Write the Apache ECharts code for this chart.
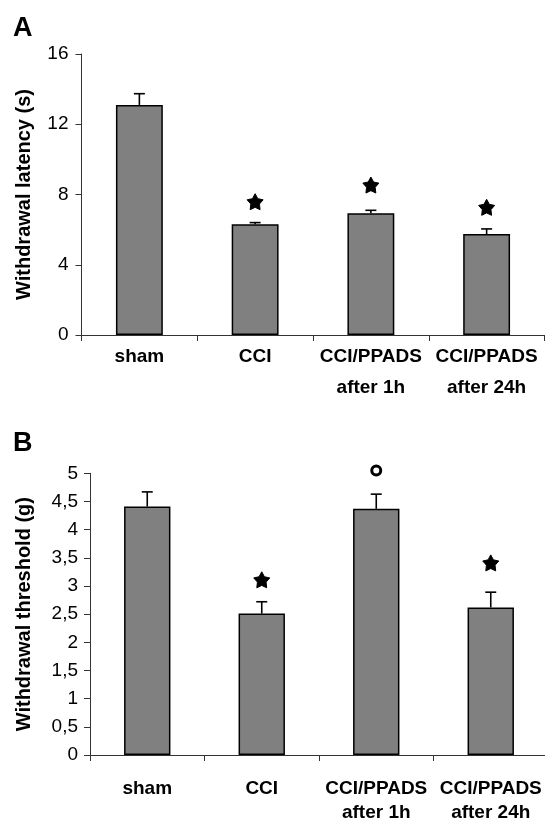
<!DOCTYPE html>
<html>
<head>
<meta charset="utf-8">
<script src="https://cdn.jsdelivr.net/npm/echarts@6/dist/echarts.min.js"></script>
<style>
html,body{margin:0;padding:0;background:#fff;}
#chart{width:545px;height:818px;}
</style>
</head>
<body>
<div id="chart"></div>
<script>
// ---- data ----
var categories = ['sham', 'CCI', 'CCI/PPADS\nafter 1h', 'CCI/PPADS\nafter 24h'];

// Panel A: withdrawal latency (s)
var latencyMean = [13.1, 6.3, 6.93, 5.75];
var latencyErr  = [0.64, 0.1, 0.17, 0.29];
var latencyMarks = [null, '*', '*', '*'];
var latencyMarkVal = [null, 7.59, 8.54, 7.27];
var latencyTicks = [0, 4, 8, 12, 16];

// Panel B: withdrawal threshold (g)
var thresholdMean = [4.41, 2.51, 4.37, 2.62];
var thresholdErr  = [0.26, 0.21, 0.26, 0.27];
var thresholdMarks = [null, '*', 'o', '*'];
var thresholdMarkVal = [null, 3.11, 5.05, 3.41];
var thresholdTicks = ['0', '0,5', '1', '1,5', '2', '2,5', '3', '3,5', '4', '4,5', '5'];

// ---- helpers ----
var FONT = "'Liberation Sans', Arial, Helvetica, sans-serif";

function starPath() {
  var pts = [];
  for (var i = 0; i < 10; i++) {
    var a = (-90 + 36 * i) * Math.PI / 180;
    var r = (i % 2 === 0) ? 50 : 27;
    pts.push((50 + r * Math.cos(a)).toFixed(2) + ' ' + (50 + r * Math.sin(a)).toFixed(2));
  }
  return 'path://M' + pts.join(' L') + ' Z';
}
var STAR = starPath();

function errData(mean, err) {
  return mean.map(function (m, i) { return [i, m, m + err[i]]; });
}
function markData(marks, vals) {
  var out = [];
  marks.forEach(function (m, i) {
    if (!m) return;
    if (m === '*') {
      out.push({ value: [i, vals[i]], symbol: STAR, symbolSize: 16,
                 itemStyle: { color: '#000', borderColor: '#000', borderWidth: 1, opacity: 1 } });
    } else {
      out.push({ value: [i, vals[i]], symbol: 'circle', symbolSize: 9,
                 itemStyle: { color: '#fff', borderColor: '#000', borderWidth: 3, opacity: 1 } });
    }
  });
  return out;
}
function renderErr(params, api) {
  var x = api.value(0);
  var p0 = api.coord([x, api.value(1)]);
  var p1 = api.coord([x, api.value(2)]);
  var half = 5.5;
  return {
    type: 'group',
    children: [
      { type: 'line', shape: { x1: p0[0], y1: p0[1], x2: p1[0], y2: p1[1] },
        style: { stroke: '#000', lineWidth: 1.6 } },
      { type: 'line', shape: { x1: p1[0] - half, y1: p1[1], x2: p1[0] + half, y2: p1[1] },
        style: { stroke: '#000', lineWidth: 1.6 } }
    ]
  };
}

function xAxisFor(grid, lineHeight, margin) {
  return {
    gridIndex: grid,
    type: 'category',
    data: categories,
    boundaryGap: true,
    axisLine: { lineStyle: { color: '#333', width: 1 } },
    axisTick: { show: true, alignWithLabel: false, length: 6, lineStyle: { color: '#333' } },
    axisLabel: { color: '#000', fontFamily: FONT, fontWeight: 'bold', fontSize: 19,
                 lineHeight: lineHeight, margin: margin, interval: 0, hideOverlap: false }
  };
}

var option = {
  backgroundColor: '#fff',
  animation: false,
  graphic: [
    { type: 'text', left: 13, top: 15, style: { text: 'A', font: 'bold 27px ' + FONT, fill: '#000' } },
    { type: 'text', left: 13, top: 430, style: { text: 'B', font: 'bold 27px ' + FONT, fill: '#000' } }
  ],
  grid: [
    { left: 81.5, top: 54, width: 463, height: 281, containLabel: false, outerBoundsMode: 'none' },
    { left: 90, top: 473.3, width: 458, height: 281.7, containLabel: false, outerBoundsMode: 'none' }
  ],
  xAxis: [ xAxisFor(0, 31, 6.5), xAxisFor(1, 24, 22) ],
  yAxis: [
    {
      gridIndex: 0, type: 'value', min: 0, max: 16, interval: 4,
      name: 'Withdrawal latency (s)', nameLocation: 'middle', nameGap: 47,
      nameTextStyle: { color: '#000', fontFamily: FONT, fontWeight: 'bold', fontSize: 20 },
      axisLine: { show: true, lineStyle: { color: '#333', width: 1 } },
      axisTick: { show: true, length: 6, lineStyle: { color: '#333' } },
      splitLine: { show: false },
      axisLabel: { color: '#000', fontFamily: FONT, fontSize: 19, margin: 13,
                   formatter: function (v) { return latencyTicks.indexOf(v) >= 0 ? String(v) : ''; } }
    },
    {
      gridIndex: 1, type: 'value', min: 0, max: 5, interval: 0.5,
      name: 'Withdrawal threshold (g)', nameLocation: 'middle', nameGap: 56,
      nameTextStyle: { color: '#000', fontFamily: FONT, fontWeight: 'bold', fontSize: 20 },
      axisLine: { show: true, lineStyle: { color: '#333', width: 1 } },
      axisTick: { show: true, length: 6, lineStyle: { color: '#333' } },
      splitLine: { show: false },
      axisLabel: { color: '#000', fontFamily: FONT, fontSize: 19, margin: 12,
                   formatter: function (v) { return thresholdTicks[Math.round(v * 2)]; } }
    }
  ],
  series: [
    { type: 'bar', xAxisIndex: 0, yAxisIndex: 0, data: latencyMean, barWidth: '40.5%',
      itemStyle: { color: '#808080', borderColor: '#000', borderWidth: 1.5 } },
    { type: 'custom', xAxisIndex: 0, yAxisIndex: 0, data: errData(latencyMean, latencyErr),
      renderItem: renderErr, z: 3 },
    { type: 'scatter', xAxisIndex: 0, yAxisIndex: 0, data: markData(latencyMarks, latencyMarkVal),
      clip: false, z: 4, itemStyle: { opacity: 1 } },
    { type: 'bar', xAxisIndex: 1, yAxisIndex: 1, data: thresholdMean, barWidth: '40.5%',
      itemStyle: { color: '#808080', borderColor: '#000', borderWidth: 1.5 } },
    { type: 'custom', xAxisIndex: 1, yAxisIndex: 1, data: errData(thresholdMean, thresholdErr),
      renderItem: renderErr, z: 3 },
    { type: 'scatter', xAxisIndex: 1, yAxisIndex: 1, data: markData(thresholdMarks, thresholdMarkVal),
      clip: false, z: 4, itemStyle: { opacity: 1 } }
  ]
};

var chart = echarts.init(document.getElementById('chart'), null, { renderer: 'canvas' });
chart.setOption(option);
</script>
</body>
</html>
